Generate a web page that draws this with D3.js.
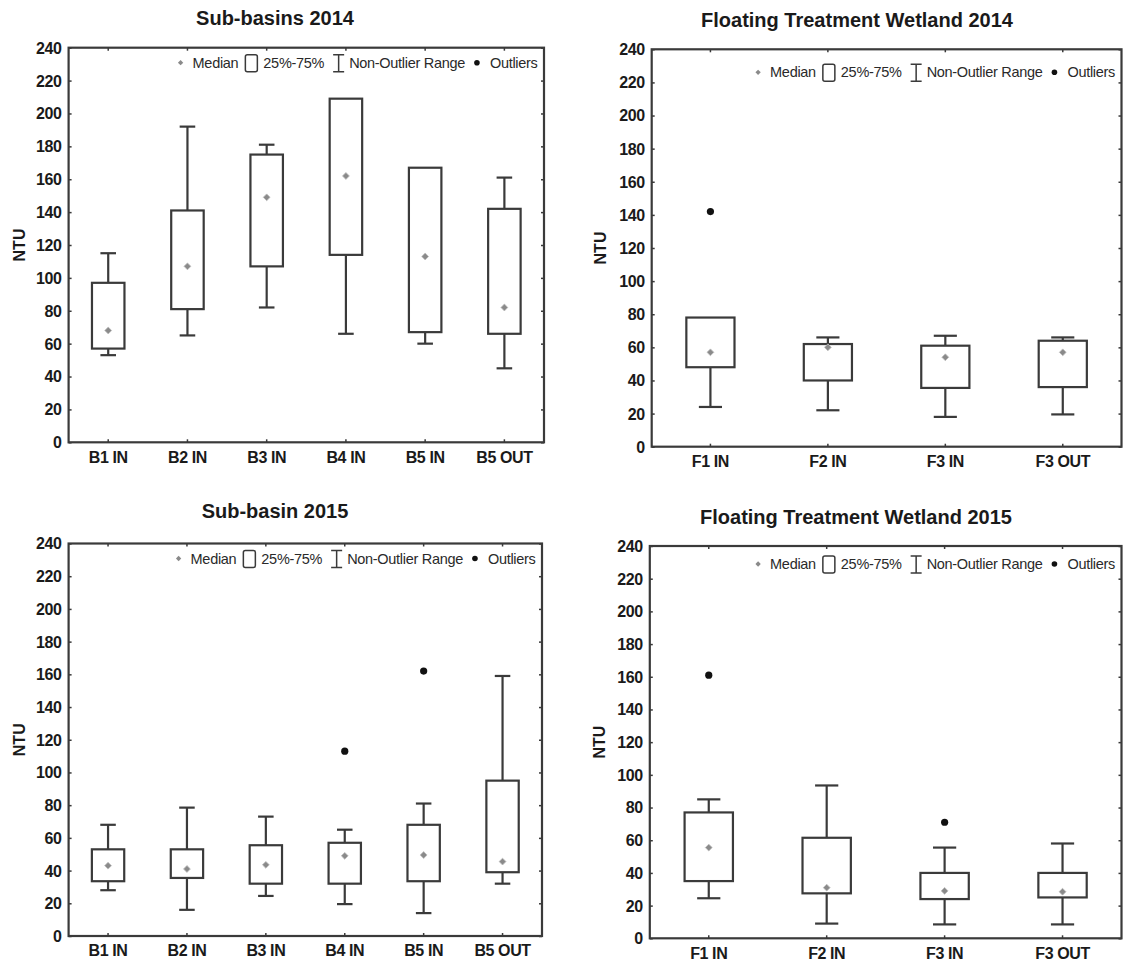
<!DOCTYPE html>
<html><head><meta charset="utf-8">
<script src="https://cdn.jsdelivr.net/npm/d3@7/dist/d3.min.js"></script>
<style>
body{margin:0;background:#fff}
</style>
</head><body>
<svg id="chart" width="1123" height="969"></svg>
<script>
// ---------- data (NTU) ----------
const yTicks = [0,20,40,60,80,100,120,140,160,180,200,220,240];

const sb14Categories = ["B1 IN","B2 IN","B3 IN","B4 IN","B5 IN","B5 OUT"];
const sb14Min    = [53, 65, 82, 66, 60, 45];
const sb14Q1     = [57, 81, 107, 114, 67, 66];
const sb14Median = [68, 107, 149, 162, 113, 82];
const sb14Q3     = [97, 141, 175, 209, 167, 142];
const sb14Max    = [115, 192, 181, 209, 167, 161];
const sb14Outliers = [[], [], [], [], [], []];

const ftw14Categories = ["F1 IN","F2 IN","F3 IN","F3 OUT"];
const ftw14Min    = [24, 22, 18, 19.5];
const ftw14Q1     = [48, 40, 35.5, 36];
const ftw14Median = [57, 60, 54, 57];
const ftw14Q3     = [78, 62, 61, 64];
const ftw14Max    = [78, 66, 67, 66];
const ftw14Outliers = [[142], [], [], []];

const sb15Categories = ["B1 IN","B2 IN","B3 IN","B4 IN","B5 IN","B5 OUT"];
const sb15Min    = [28, 16, 24.5, 19.5, 14, 32];
const sb15Q1     = [33.5, 35.5, 32, 32, 33.5, 39];
const sb15Median = [43, 41, 43.5, 49, 49.5, 45.5];
const sb15Q3     = [53, 53, 55.5, 57, 68, 95];
const sb15Max    = [68, 78.5, 73, 65, 81, 159];
const sb15Outliers = [[], [], [], [113], [162], []];

const ftw15Categories = ["F1 IN","F2 IN","F3 IN","F3 OUT"];
const ftw15Min    = [24.5, 9, 8.5, 8.5];
const ftw15Q1     = [35, 27.5, 24, 25];
const ftw15Median = [55.5, 31, 29, 28.5];
const ftw15Q3     = [77, 61.5, 40, 40];
const ftw15Max    = [85, 93.5, 55.5, 58];
const ftw15Outliers = [[161], [], [71], []];

const legendLabels = ["Median", "25%-75%", "Non-Outlier Range", "Outliers"];

// ---------- layout ----------
const panels = [
  {title:"Sub-basins 2014", cats:sb14Categories, min:sb14Min, q1:sb14Q1, med:sb14Median, q3:sb14Q3, max:sb14Max, out:sb14Outliers,
   x0:68.6, x1:544, y0:47.7, y1:442.3, tx:275, ty:20, ldy:15, ntuX:21},
  {title:"Floating Treatment Wetland 2014", cats:ftw14Categories, min:ftw14Min, q1:ftw14Q1, med:ftw14Median, q3:ftw14Q3, max:ftw14Max, out:ftw14Outliers,
   x0:651.7, x1:1121.5, y0:49.3, y1:446.7, tx:857, ty:22, ldy:23, ntuX:602},
  {title:"Sub-basin 2015", cats:sb15Categories, min:sb15Min, q1:sb15Q1, med:sb15Median, q3:sb15Q3, max:sb15Max, out:sb15Outliers,
   x0:68.6, x1:542, y0:543.5, y1:936, tx:275, ty:513, ldy:15, ntuX:21},
  {title:"Floating Treatment Wetland 2015", cats:ftw15Categories, min:ftw15Min, q1:ftw15Q1, med:ftw15Median, q3:ftw15Q3, max:ftw15Max, out:ftw15Outliers,
   x0:649.8, x1:1121.5, y0:546, y1:938.3, tx:856, ty:519, ldy:18, ntuX:601}
];

const INK = "#3a3a3a";
const TICKFONT = "'Liberation Sans',Arial,sans-serif";
const svg = d3.select("#chart");

panels.forEach(p => {
  const g = svg.append("g");
  const y = d3.scaleLinear().domain([0,240]).range([p.y1, p.y0]);
  const x = d3.scaleBand().domain(p.cats).range([p.x0, p.x1]).paddingInner(0.59).paddingOuter(0.295);
  const bw = x.bandwidth();
  const cap = bw * 0.48;

  // title
  g.append("text").attr("x", p.tx).attr("y", p.ty).attr("text-anchor","middle")
    .attr("dominant-baseline","middle")
    .style("font-family","'Liberation Sans',Arial,sans-serif").style("font-weight","bold")
    .style("font-size","20px").style("fill","#1a1a1a").text(p.title);

  // axes
  const yAxis = d3.axisLeft(y).tickValues(yTicks).tickSizeInner(-3).tickSizeOuter(0).tickPadding(7);
  const yAxisR = d3.axisRight(y).tickValues(yTicks).tickSizeInner(-3).tickSizeOuter(0).tickFormat("");
  const xAxis = d3.axisBottom(x).tickSizeInner(-3).tickSizeOuter(0).tickPadding(9);
  const xAxisT = d3.axisTop(x).tickSizeInner(-3).tickSizeOuter(0).tickFormat("");

  const ga = g.append("g").attr("transform",`translate(${p.x0},0)`).call(yAxis);
  const gr = g.append("g").attr("transform",`translate(${p.x1},0)`).call(yAxisR);
  const gb = g.append("g").attr("transform",`translate(0,${p.y1})`).call(xAxis);
  const gt = g.append("g").attr("transform",`translate(0,${p.y0})`).call(xAxisT);
  [ga,gr,gb,gt].forEach(a => {
    a.select(".domain").remove();
    a.selectAll(".tick line").attr("stroke", INK).attr("stroke-width",1.5);
    a.selectAll("text").style("font-family",TICKFONT).style("font-weight","bold")
      .style("font-size","16px").style("letter-spacing","-0.4px").style("fill","#1a1a1a");
  });
  ga.selectAll("text").attr("dy","0.34em");

  // frame
  g.append("rect").attr("x",p.x0).attr("y",p.y0).attr("width",p.x1-p.x0).attr("height",p.y1-p.y0)
    .attr("fill","none").attr("stroke",INK).attr("stroke-width",2.2);

  // y title
  g.append("text").attr("transform",`translate(${p.ntuX},${(p.y0+p.y1)/2}) rotate(-90)`)
    .attr("text-anchor","middle").attr("dominant-baseline","middle")
    .style("font-family","'Liberation Sans',Arial,sans-serif").style("font-weight","bold")
    .style("font-size","16px").style("fill","#1a1a1a").text("NTU");

  // boxes
  p.cats.forEach((c,i) => {
    const cx = x(c) + bw/2;
    const bg = g.append("g");
    if (p.max[i] > p.q3[i]) {
      bg.append("line").attr("x1",cx).attr("x2",cx).attr("y1",y(p.q3[i])).attr("y2",y(p.max[i]));
      bg.append("line").attr("x1",cx-cap/2).attr("x2",cx+cap/2).attr("y1",y(p.max[i])).attr("y2",y(p.max[i]));
    }
    if (p.min[i] < p.q1[i]) {
      bg.append("line").attr("x1",cx).attr("x2",cx).attr("y1",y(p.q1[i])).attr("y2",y(p.min[i]));
      bg.append("line").attr("x1",cx-cap/2).attr("x2",cx+cap/2).attr("y1",y(p.min[i])).attr("y2",y(p.min[i]));
    }
    bg.append("rect").attr("x",x(c)).attr("width",bw).attr("y",y(p.q3[i])).attr("height",y(p.q1[i])-y(p.q3[i]))
      .attr("fill","#fff").attr("stroke",INK).attr("stroke-width",2.2);
    bg.selectAll("line").attr("stroke",INK).attr("stroke-width",2.2);
    bg.append("path").attr("d", d3.symbol(d3.symbolDiamond2, 30)())
      .attr("transform",`translate(${cx},${y(p.med[i])})`).attr("fill","#8a8a8a").attr("stroke","#bdbdbd").attr("stroke-width",0.8);
    p.out[i].forEach(v => {
      bg.append("circle").attr("cx",cx).attr("cy",y(v)).attr("r",3.6).attr("fill","#111");
    });
  });

  // legend
  const ly = p.y0 + p.ldy;
  const lg = g.append("g");
  const txt = (xx, s) => lg.append("text").attr("x",xx).attr("y",ly).attr("dy","0.35em")
      .style("font-family",TICKFONT).style("font-size","14.5px").style("letter-spacing","-0.3px")
      .style("fill","#2a2a2a").text(s);
  let cx = 0;
  lg.append("path").attr("d", d3.symbol(d3.symbolDiamond2, 18)()).attr("transform",`translate(${cx},${ly})`)
    .attr("fill","#8a8a8a");
  cx += 12;
  let t = txt(cx, legendLabels[0]); cx += t.node().getComputedTextLength() + 7;
  lg.append("rect").attr("x",cx).attr("y",ly-8).attr("width",12).attr("height",17).attr("rx",2)
    .attr("fill","none").attr("stroke",INK).attr("stroke-width",1.5);
  cx += 18;
  t = txt(cx, legendLabels[1]); cx += t.node().getComputedTextLength() + 9;
  lg.append("path").attr("d",`M${cx},${ly-8}H${cx+11}M${cx+5.5},${ly-8}V${ly+9}M${cx},${ly+9}H${cx+11}`)
    .attr("stroke",INK).attr("stroke-width",1.5).attr("fill","none");
  cx += 16;
  t = txt(cx, legendLabels[2]); cx += t.node().getComputedTextLength() + 12;
  lg.append("circle").attr("cx",cx).attr("cy",ly).attr("r",2.8).attr("fill","#111");
  cx += 13;
  t = txt(cx, legendLabels[3]); cx += t.node().getComputedTextLength();
  const shift = p.x1 - 6.5 - cx;
  lg.attr("transform",`translate(${shift},0)`);
});
</script>
</body></html>
